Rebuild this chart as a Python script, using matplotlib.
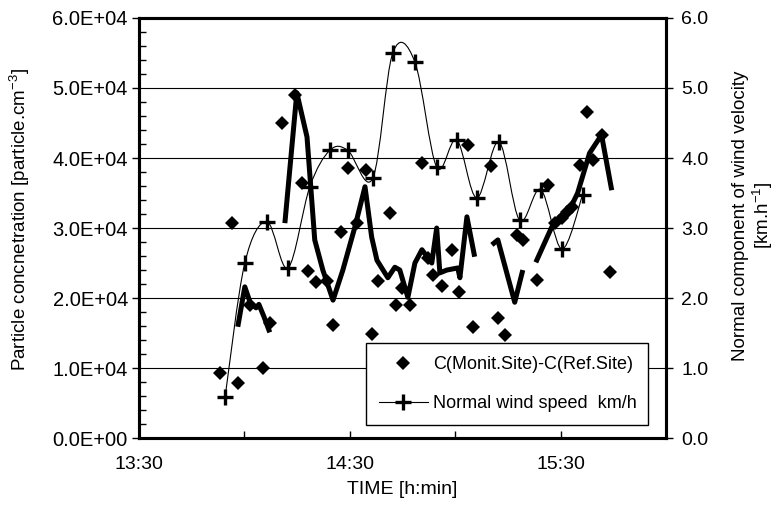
import matplotlib
matplotlib.use("Agg")
import matplotlib.pyplot as plt
import numpy as np
from matplotlib.path import Path
from matplotlib.patches import PathPatch
from matplotlib.lines import Line2D
from matplotlib.ticker import FuncFormatter, MultipleLocator

plt.rcParams['font.family'] = ['Liberation Sans', 'DejaVu Sans']
plt.rcParams['mathtext.default'] = 'regular'

# time in minutes after 13:30
conc_t = [23.0, 26.4, 28.1, 31.6, 35.3, 37.2, 40.7, 44.4, 46.3, 48.1, 50.3, 53.5,
          55.2, 57.4, 59.4, 62.0, 64.5, 66.2, 68.0, 71.4, 73.1, 74.8, 77.1, 80.5,
          82.2, 83.6, 86.2, 89.0, 91.0, 93.5, 95.0, 100.1, 102.1, 104.1, 107.5,
          109.2, 113.2, 116.3, 118.3, 120.3, 121.7, 123.1, 125.4, 127.4, 129.1,
          131.6, 133.9]
conc = [9300, 30700, 7900, 19000, 10000, 16400, 45000, 49000, 36400, 23900, 22300,
        22400, 16100, 29400, 38600, 30700, 38300, 14900, 22400, 32100, 19000, 21400,
        19000, 39300, 25700, 23300, 21700, 26900, 20900, 41900, 15900, 38900, 17100,
        14700, 29000, 28300, 22600, 36100, 30700, 31400, 32300, 33000, 39000, 46600,
        39700, 43300, 23700]

# thick trend line (gaps as NaN)
trend_t = [28.1, 30.1, 31.6, 33.3, 34.1, 35.5, 37.2, np.nan,
           41.5, 44.9, 47.8, 50.0, 52.3, 55.2, 58.0, 61.4, 64.3, 66.2, 67.7, 70.8,
           72.8, 74.2, 76.5, 78.5, 80.5, 83.3, 84.7, 85.6, 87.6, 90.7, 91.3, 93.3,
           95.5, np.nan,
           100.4, 102.1, 106.9, 109.2, np.nan,
           112.9, 117.4, 119.7, 122.5, 124.8, 128.2, 131.6, 134.5]
trend = [15900, 21600, 19400, 18600, 19100, 17400, 15100, np.nan,
         30700, 49300, 43000, 28300, 24000, 19700, 24000, 30100, 35900, 28700,
         25400, 22900, 24400, 24000, 20100, 25000, 26900, 25000, 30000, 23600,
         24000, 24300, 22900, 31600, 25900, np.nan,
         27600, 28300, 19400, 24000, np.nan,
         25100, 30100, 31600, 32600, 35000, 40700, 43300, 35400]

wind_t = [24.5, 30.1, 36.4, 42.4, 48.6, 54.3, 59.4, 66.5, 72.2, 78.5, 84.7, 90.4,
          96.1, 102.4, 108.3, 114.3, 120.3, 126.2]
wind = [0.59, 2.5, 3.09, 2.43, 3.59, 4.11, 4.11, 3.71, 5.5, 5.37, 3.87, 4.26,
        3.43, 4.23, 3.11, 3.55, 2.7, 3.47]

time_ticks = [0, 60, 120]
time_labels = ['13:30', '14:30', '15:30']


def smooth_path(x, y):
    # Excel-style smoothed line as cubic Bezier segments
    n = len(x)
    verts = [(x[0], y[0])]
    codes = [Path.MOVETO]
    for i in range(n - 1):
        p0 = max(i - 1, 0)
        p3 = min(i + 2, n - 1)
        c1 = (x[i] + (x[i + 1] - x[p0]) / 6, y[i] + (y[i + 1] - y[p0]) / 6)
        c2 = (x[i + 1] - (x[p3] - x[i]) / 6, y[i + 1] - (y[p3] - y[i]) / 6)
        verts += [c1, c2, (x[i + 1], y[i + 1])]
        codes += [Path.CURVE4] * 3
    return Path(verts, codes)


fig = plt.figure(figsize=(7.81, 5.13), dpi=100)
ax = fig.add_axes([0.178, 0.146, 0.675, 0.819])
ax2 = ax.twinx()

ax.set_axisbelow(True)
ax.yaxis.grid(True, color='black', lw=0.8)
ax.plot(trend_t, trend, color='black', lw=3.6, solid_capstyle='butt', zorder=2)
ax.plot(conc_t, conc, ls='none', marker='D', ms=7.5, mew=0, color='black', zorder=3)

ax2.add_patch(PathPatch(smooth_path(wind_t, wind), fill=False, lw=0.8,
                        edgecolor='black', zorder=2))
ax2.plot(wind_t, wind, ls='none', marker='+', ms=11, mew=2.4, color='black', zorder=3)

ax.set_xlim(0, 150)
ax.set_ylim(0, 60000)
ax2.set_ylim(0, 6)

ax.set_xticks(time_ticks)
ax.set_xticklabels(time_labels)
ax.xaxis.set_minor_locator(MultipleLocator(30))
ax.yaxis.set_major_locator(MultipleLocator(10000))
ax.yaxis.set_minor_locator(MultipleLocator(2000))
ax.yaxis.set_major_formatter(FuncFormatter(lambda v, p: f"{v:.1E}"))
ax2.yaxis.set_major_locator(MultipleLocator(1))
ax2.yaxis.set_major_formatter(FuncFormatter(lambda v, p: f"{v:.1f}"))

ax.tick_params(axis='x', which='both', direction='in', length=5, width=1,
               labelsize=14, pad=13)
ax.tick_params(axis='y', which='major', direction='out', length=5, width=1,
               labelsize=14.5, pad=3)
ax.tick_params(axis='y', which='minor', direction='in', length=5, width=1)
ax2.tick_params(axis='y', direction='out', length=5, width=1, labelsize=14, pad=6)

for a in (ax, ax2):
    for s in a.spines.values():
        s.set_linewidth(2.2)

ax.set_xlabel('TIME [h:min]', fontsize=14, labelpad=6)
ax.set_ylabel('Particle concnetration [particle.cm$^{-3}$]', fontsize=13.5)
ax.yaxis.set_label_coords(-0.203, 0.52)
ax2.set_ylabel('Normal component of wind velocity\n[km.h$^{-1}$]', fontsize=13.5,
               multialignment='center', rotation=90, linespacing=1.1)
ax2.yaxis.set_label_coords(1.125, 0.53)

handles = [Line2D([], [], ls='none', marker='D', ms=7.5, mew=0, color='black'),
           Line2D([], [], ls='-', lw=0.8, marker='+', ms=11, mew=2.4, color='black')]
leg = ax2.legend(handles, ['C(Monit.Site)-C(Ref.Site)', 'Normal wind speed  km/h'],
                 loc='lower left', bbox_to_anchor=(0.431, 0.031, 0.535, 0.195),
                 mode='expand', fontsize=13, fancybox=False, framealpha=1,
                 edgecolor='black', handlelength=2.7, handletextpad=0.3,
                 labelspacing=1.25, borderpad=0.7, borderaxespad=0)
leg.get_frame().set_linewidth(1)

fig.savefig('out.png', dpi=100)
